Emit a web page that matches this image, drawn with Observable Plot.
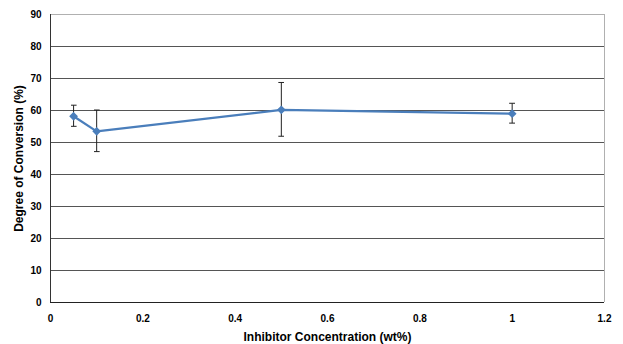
<!DOCTYPE html>
<html>
<head>
<meta charset="utf-8">
<script src="https://cdn.jsdelivr.net/npm/d3@7"></script>
<script src="https://cdn.jsdelivr.net/npm/@observablehq/plot@0.6"></script>
<style>
  html, body { margin: 0; padding: 0; background: #fff; }
</style>
</head>
<body>
<div id="chart"></div>
<script>
const concentration = [0.05, 0.1, 0.5, 1.0];
const conversion = [58.2, 53.5, 60.2, 59.0];
const errorBar = [3.3, 6.5, 8.4, 3.1];
const xTicks = [0, 0.2, 0.4, 0.6, 0.8, 1, 1.2];
const yTicks = [0, 10, 20, 30, 40, 50, 60, 70, 80, 90];
const xTitle = "Inhibitor Concentration (wt%)";
const yTitle = "Degree of Conversion (%)";

const data = concentration.map((x, i) => ({x, y: conversion[i], e: errorBar[i]}));
const innerGrid = yTicks.filter(v => v > 0 && v < 90);

const chart = Plot.plot({
  width: 623,
  height: 344,
  marginLeft: 50,
  marginRight: 19,
  marginTop: 14,
  marginBottom: 42,
  style: {fontFamily: "'Liberation Sans', Arial, sans-serif", fontSize: "10px", fontWeight: "bold", color: "#000", background: "#fff"},
  x: {domain: [0, 1.2]},
  y: {domain: [0, 90]},
  marks: [
    Plot.ruleY(innerGrid, {stroke: "#555", strokeWidth: 1}),
    Plot.ruleY([90], {stroke: "#b0b0b0", strokeWidth: 1}),
    Plot.ruleX([1.2], {stroke: "#b0b0b0", strokeWidth: 1}),
    Plot.ruleX([0], {stroke: "#333", strokeWidth: 1}),
    Plot.ruleY([0], {stroke: "#222", strokeWidth: 1}),
    Plot.axisX({ticks: xTicks, tickFormat: d => String(d), tickSize: 0, tickPadding: 12, anchor: "bottom", label: xTitle, labelAnchor: "center", labelOffset: 38, labelArrow: "none"}),
    Plot.axisY({ticks: yTicks, tickSize: 0, tickPadding: 9, anchor: "left", label: yTitle, labelAnchor: "center", labelOffset: 36, labelArrow: "none"}),
    Plot.ruleX(data, {x: "x", y1: d => d.y - d.e, y2: d => d.y + d.e, stroke: "#222", strokeWidth: 1, markerStart: "tick", markerEnd: "tick"}),
    Plot.line(data, {x: "x", y: "y", stroke: "#4a7ebb", strokeWidth: 2.2}),
    Plot.dot(data, {x: "x", y: "y", symbol: "diamond2", r: 3, fill: "#4a7ebb", stroke: "#4a7ebb"})
  ]
});
document.getElementById("chart").appendChild(chart);
chart.querySelectorAll("g[aria-label='x-axis label'] text, g[aria-label='y-axis label'] text").forEach(t => t.setAttribute("font-size", "12px"));
</script>
</body>
</html>
